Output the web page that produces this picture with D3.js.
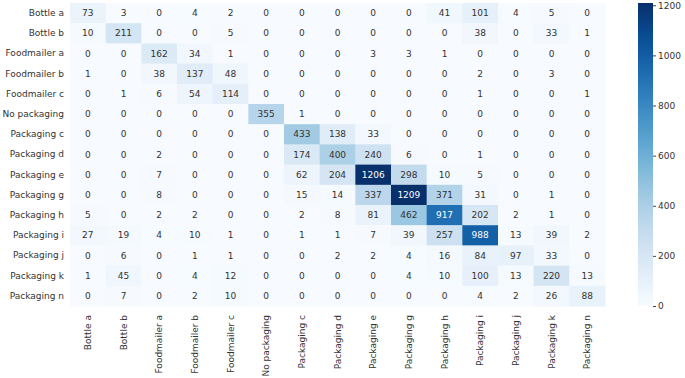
<!DOCTYPE html>
<html>
<head>
<meta charset="utf-8">
<script src="https://cdn.jsdelivr.net/npm/d3@7"></script>
<style>
  body { margin: 0; background: #fff; }
  text { font-family: "DejaVu Sans", sans-serif; }
</style>
</head>
<body>
<svg id="chart" width="685" height="378"></svg>
<script>
var labels = ["Bottle a", "Bottle b", "Foodmailer a", "Foodmailer b", "Foodmailer c",
  "No packaging", "Packaging c", "Packaging d", "Packaging e", "Packaging g",
  "Packaging h", "Packaging i", "Packaging j", "Packaging k", "Packaging n"];

var bottleA      = [73, 3, 0, 4, 2, 0, 0, 0, 0, 0, 41, 101, 4, 5, 0];
var bottleB      = [10, 211, 0, 0, 5, 0, 0, 0, 0, 0, 0, 38, 0, 33, 1];
var foodmailerA  = [0, 0, 162, 34, 1, 0, 0, 0, 3, 3, 1, 0, 0, 0, 0];
var foodmailerB  = [1, 0, 38, 137, 48, 0, 0, 0, 0, 0, 0, 2, 0, 3, 0];
var foodmailerC  = [0, 1, 6, 54, 114, 0, 0, 0, 0, 0, 0, 1, 0, 0, 1];
var noPackaging  = [0, 0, 0, 0, 0, 355, 1, 0, 0, 0, 0, 0, 0, 0, 0];
var packagingC   = [0, 0, 0, 0, 0, 0, 433, 138, 33, 0, 0, 0, 0, 0, 0];
var packagingD   = [0, 0, 2, 0, 0, 0, 174, 400, 240, 6, 0, 1, 0, 0, 0];
var packagingE   = [0, 0, 7, 0, 0, 0, 62, 204, 1206, 298, 10, 5, 0, 0, 0];
var packagingG   = [0, 0, 8, 0, 0, 0, 15, 14, 337, 1209, 371, 31, 0, 1, 0];
var packagingH   = [5, 0, 2, 2, 0, 0, 2, 8, 81, 462, 917, 202, 2, 1, 0];
var packagingI   = [27, 19, 4, 10, 1, 0, 1, 1, 7, 39, 257, 988, 13, 39, 2];
var packagingJ   = [0, 6, 0, 1, 1, 0, 0, 2, 2, 4, 16, 84, 97, 33, 0];
var packagingK   = [1, 45, 0, 4, 12, 0, 0, 0, 0, 4, 10, 100, 13, 220, 13];
var packagingN   = [0, 7, 0, 2, 10, 0, 0, 0, 0, 0, 0, 4, 2, 26, 88];

var rows = [bottleA, bottleB, foodmailerA, foodmailerB, foodmailerC, noPackaging,
  packagingC, packagingD, packagingE, packagingG, packagingH, packagingI,
  packagingJ, packagingK, packagingN];

var colorTicks = [0, 200, 400, 600, 800, 1000, 1200];

var svg = d3.select("#chart");
var margin = { top: 3, left: 70, right: 605, bottom: 306 };
var fontSize = "9px";
var labelColor = "#333";

var cells = [];
rows.forEach((r, i) => r.forEach((v, j) => cells.push({ row: labels[i], col: labels[j], value: v })));

var vmax = d3.max(cells, d => d.value);

var x = d3.scaleBand().domain(labels).range([margin.left, margin.right]);
var y = d3.scaleBand().domain(labels).range([margin.top, margin.bottom]);
var color = d3.scaleSequential(d3.interpolateBlues).domain([0, vmax]);

svg.selectAll("rect.cell")
  .data(cells)
  .enter()
  .append("rect")
  .attr("class", "cell")
  .attr("x", d => x(d.col))
  .attr("y", d => y(d.row))
  .attr("width", x.bandwidth() + 0.5)
  .attr("height", y.bandwidth() + 0.5)
  .attr("fill", d => color(d.value));

// seaborn-style: light text on dark cells
function textColor(v) {
  var c = d3.rgb(color(v));
  var lum = [c.r, c.g, c.b].map(u => {
    u = u / 255;
    return u <= 0.03928 ? u / 12.92 : Math.pow((u + 0.055) / 1.055, 2.4);
  });
  var l = 0.2126 * lum[0] + 0.7152 * lum[1] + 0.0722 * lum[2];
  return l > 0.408 ? labelColor : "#ffffff";
}

svg.selectAll("text.annot")
  .data(cells)
  .enter()
  .append("text")
  .attr("class", "annot")
  .attr("x", d => x(d.col) + x.bandwidth() / 2)
  .attr("y", d => y(d.row) + y.bandwidth() / 2)
  .attr("dy", "0.35em")
  .attr("text-anchor", "middle")
  .style("font-size", fontSize)
  .style("fill", d => textColor(d.value))
  .text(d => d.value);

// y axis labels
var yAxis = d3.axisLeft(y).tickSize(0).tickPadding(6);
var gy = svg.append("g")
  .attr("transform", `translate(${margin.left},0)`)
  .call(yAxis);
gy.select(".domain").remove();
gy.selectAll("text").style("font-size", fontSize).style("fill", labelColor)
  .style("font-family", "'DejaVu Sans', sans-serif");

// x axis labels, rotated
var xAxis = d3.axisBottom(x).tickSize(0);
var gx = svg.append("g")
  .attr("transform", `translate(0,${margin.bottom})`)
  .call(xAxis);
gx.select(".domain").remove();
gx.selectAll("text")
  .style("font-size", fontSize)
  .style("fill", labelColor)
  .style("font-family", "'DejaVu Sans', sans-serif")
  .attr("transform", "rotate(-90)")
  .attr("x", -9)
  .attr("y", 0)
  .attr("dy", "0.35em")
  .style("text-anchor", "end");

// colorbar
var cbX = 638, cbW = 15;
var cbScale = d3.scaleLinear().domain([0, vmax]).range([margin.bottom, margin.top]);

var grad = svg.append("defs").append("linearGradient")
  .attr("id", "cbgrad")
  .attr("x1", "0").attr("y1", "1").attr("x2", "0").attr("y2", "0");
d3.range(0, 1.0001, 0.05).forEach(t => {
  grad.append("stop")
    .attr("offset", t)
    .attr("stop-color", color(t * vmax));
});

svg.append("rect")
  .attr("x", cbX)
  .attr("y", margin.top)
  .attr("width", cbW)
  .attr("height", margin.bottom - margin.top)
  .attr("fill", "url(#cbgrad)");

var cbAxis = d3.axisRight(cbScale).tickValues(colorTicks).tickFormat(d3.format("d"))
  .tickSize(3).tickPadding(2);
var gc = svg.append("g")
  .attr("transform", `translate(${cbX + cbW},0)`)
  .call(cbAxis);
gc.select(".domain").remove();
gc.selectAll("line").attr("stroke", "#444");
gc.selectAll("text").style("font-size", fontSize).style("fill", labelColor)
  .style("font-family", "'DejaVu Sans', sans-serif");
</script>
</body>
</html>
